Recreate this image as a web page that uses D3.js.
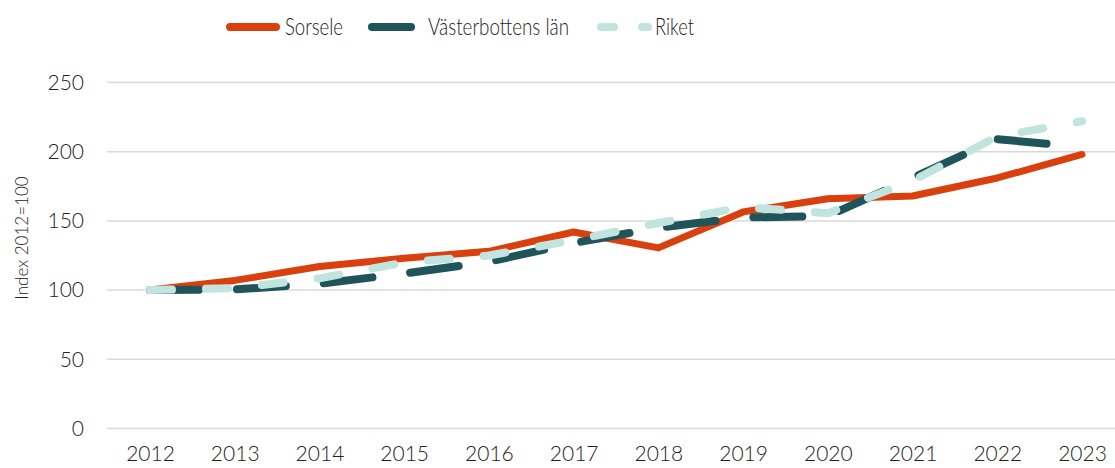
<!DOCTYPE html>
<html>
<head>
<meta charset="utf-8">
<script src="https://cdn.jsdelivr.net/npm/d3@7"></script>
<style>
  body { margin: 0; background: #fff; }
  text { font-family: Lato, "Open Sans", sans-serif; fill: #222; font-weight: 300; }
</style>
</head>
<body>
<div id="chart"></div>
<script>
// data
const years = ["2012","2013","2014","2015","2016","2017","2018","2019","2020","2021","2022","2023"]
const sorsele = [100, 107, 117, 123, 128, 142, 130.5, 156.5, 166, 168, 181, 198]
const vasterbotten = [100, 100.5, 104.5, 112, 120.5, 134, 145, 152.5, 153.5, 181, 209, 203.5]
const riket = [100, 101.5, 108.5, 120, 125, 136, 148.5, 160, 155.5, 179, 211, 222]
const yTicks = [0, 50, 100, 150, 200, 250]
const seriesNames = ["Sorsele", "Västerbottens län", "Riket"]

const w = 1115
const h = 468

const svg = d3.select("#chart")
  .append("svg")
  .attr("width", w)
  .attr("height", h)

const x = d3.scalePoint()
  .domain(years)
  .range([150, 1082])

const y = d3.scaleLinear()
  .domain([0, 250])
  .range([428.5, 82.5])

// gridlines
svg.append("g")
  .selectAll("line")
  .data(yTicks)
  .enter()
  .append("line")
  .attr("x1", 107)
  .attr("x2", w)
  .attr("y1", d => y(d))
  .attr("y2", d => y(d))
  .attr("stroke", "#d9d9d9")
  .attr("stroke-width", 1.5)

// y axis labels
const yAxis = d3.axisLeft(y).tickValues(yTicks).tickSize(0).tickPadding(0)
svg.append("g")
  .attr("transform", "translate(84,0)")
  .call(yAxis)
  .call(g => g.select(".domain").remove())
  .selectAll("text")
  .attr("font-size", 21)
  .attr("font-family", "Lato")

// x axis labels
const xAxis = d3.axisBottom(x).tickSize(0).tickPadding(0)
svg.append("g")
  .attr("transform", "translate(0,446)")
  .call(xAxis)
  .call(g => g.select(".domain").remove())
  .selectAll("text")
  .attr("font-size", 21)
  .attr("font-family", "Lato")

svg.append("text")
  .attr("transform", "rotate(-90)")
  .attr("x", -238)
  .attr("y", 28)
  .attr("text-anchor", "middle")
  .attr("font-size", 17)
  .text("Index 2012=100")

const line = d3.line()
  .x((d, i) => x(years[i]))
  .y(d => y(d))

const series = [
  { name: seriesNames[0], values: sorsele, color: "#d9400e", width: 7, dash: null },
  { name: seriesNames[1], values: vasterbotten, color: "#1f545b", width: 8, dash: "49,38" },
  { name: seriesNames[2], values: riket, color: "#c1e4df", width: 8, dash: "22,34" }
]

series.forEach(s => {
  svg.append("path")
    .datum(s.values)
    .attr("d", line)
    .attr("fill", "none")
    .attr("stroke", s.color)
    .attr("stroke-width", s.width)
    .attr("stroke-linecap", "round")
    .attr("stroke-linejoin", "round")
    .attr("stroke-dasharray", s.dash)
})

// legend
const legendY = 27
const legend = [
  { x1: 230, x2: 276, tx: 285, tw: 58, dash: null },
  { x1: 372, x2: 411, tx: 428, tw: 141, dash: null },
  { x1: 601, x2: 648, tx: 655, tw: 39, dash: "13,28" }
]
legend.forEach((l, i) => {
  svg.append("line")
    .attr("x1", l.x1).attr("x2", l.x2)
    .attr("y1", legendY).attr("y2", legendY)
    .attr("stroke", series[i].color)
    .attr("stroke-width", 8)
    .attr("stroke-linecap", "round")
    .attr("stroke-dasharray", l.dash)
  svg.append("text")
    .attr("x", l.tx)
    .attr("y", legendY + 8)
    .attr("font-size", 24)
    .attr("textLength", l.tw)
    .attr("lengthAdjust", "spacingAndGlyphs")
    .text(series[i].name)
})
</script>
</body>
</html>
